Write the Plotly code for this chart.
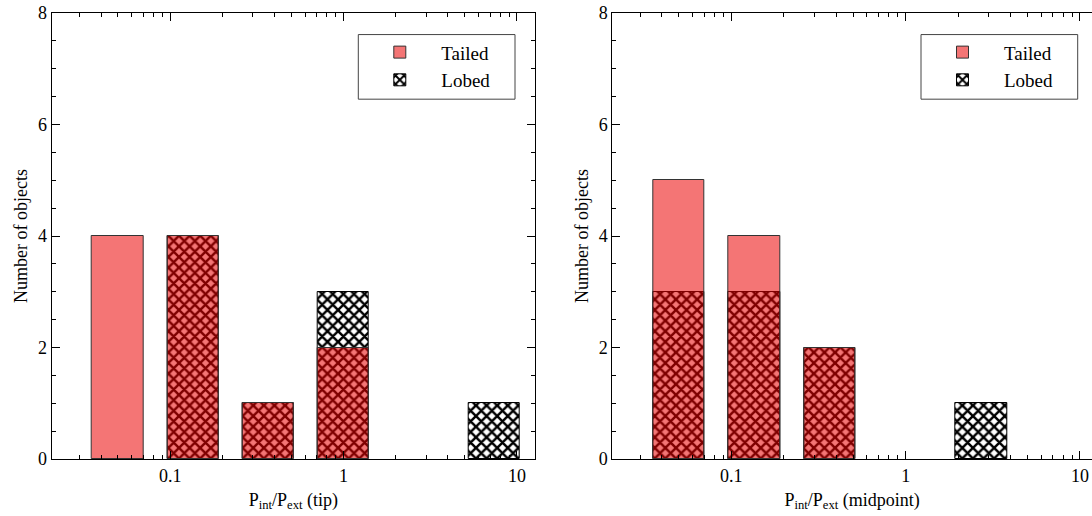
import math
import plotly.graph_objects as go

# ---------------- data ----------------
bin_center_ln = [-3, -2, -1, 0, 1, 2]        # bin centres, natural-log units of Pint/Pext
bar_width_ln = 0.68
tip_tailed = [4, 4, 1, 2, 0, 0]
tip_lobed = [0, 4, 1, 3, 0, 1]
mid_tailed = [5, 4, 2, 0, 0, 0]
mid_lobed = [3, 3, 2, 0, 1, 0]
major_tick_vals = [0.1, 1, 10]
major_tick_text = ["0.1", "1", "10"]
y_tick_vals = [0, 2, 4, 6, 8]
x_titles = ["P<sub>int</sub>/P<sub>ext</sub> (tip)", "P<sub>int</sub>/P<sub>ext</sub> (midpoint)"]
y_title = "Number of objects"

LN10 = math.log(10)
x_pos = [k / LN10 for k in bin_center_ln]
bar_w = bar_width_ln / LN10
minor_vals = [math.log10(m * 10 ** d) for d in range(-2, 2) for m in range(2, 10)]


def nz(vals):
    return [v if v else None for v in vals]


FONT = "Liberation Serif"
W, H = 1092, 516
ML, MR, MT, MB = 0, 0, 12.7, 56.7
plot_h = H - MT - MB


def py(px):  # pixel row -> paper y
    return 1 - (px - MT) / plot_h


fig = go.Figure()

panels = [
    ("x", "y", "legend", tip_tailed, tip_lobed),
    ("x2", "y2", "legend2", mid_tailed, mid_lobed),
]
for xa, ya, lg, tailed, lobed in panels:
    fig.add_trace(go.Bar(
        x=x_pos, y=nz(lobed), width=bar_w, name="Lobed", xaxis=xa, yaxis=ya,
        legend=lg, legendrank=2,
        marker=dict(color="black", line=dict(color="black", width=1),
                    pattern=dict(shape="x", fgcolor="black", bgcolor="white",
                                 size=7.5, solidity=0.55, fillmode="replace")),
    ))
    fig.add_trace(go.Bar(
        x=x_pos, y=nz(tailed), width=bar_w, name="Tailed", xaxis=xa, yaxis=ya,
        legend=lg, legendrank=1,
        marker=dict(color="rgba(235,0,0,0.54)", line=dict(color="#333333", width=1)),
    ))

tickfont = dict(family=FONT, size=18, color="black")
titlefont = dict(family=FONT, size=18, color="black")


def xaxis(domain, rng, title, mirror):
    return dict(
        domain=domain, range=rng, tickmode="array",
        tickvals=[math.log10(v) for v in major_tick_vals], ticktext=major_tick_text,
        ticks="inside", ticklen=8, tickcolor="black", tickwidth=1,
        showline=True, linecolor="black", linewidth=1, mirror=mirror,
        showgrid=False, zeroline=False,
        minor=dict(tickmode="array", tickvals=minor_vals, ticks="inside",
                   ticklen=4, tickcolor="black", tickwidth=1, showgrid=False),
        tickfont=tickfont, title=dict(text=title, font=titlefont, standoff=8),
        automargin=False,
    )


def yaxis(anchor, mirror):
    return dict(
        domain=[0, 1], range=[0, 8], anchor=anchor, tickmode="array",
        tickvals=y_tick_vals, ticks="inside", ticklen=8, tickcolor="black",
        showline=True, linecolor="black", linewidth=1, mirror=mirror,
        showgrid=False, zeroline=False,
        minor=dict(dtick=0.5, tick0=0, ticks="inside", ticklen=4,
                   tickcolor="black", showgrid=False),
        tickfont=tickfont, title=dict(text=y_title, font=titlefont, standoff=5),
        automargin=False,
    )


dom1 = [51.7 / W, 535.0 / W]
dom2 = [612.3 / W, 1.0]

legend_common = dict(
    bgcolor="rgba(0,0,0,0)", borderwidth=0,
    font=dict(family=FONT, size=19, color="black"),
    xanchor="left", yanchor="top", traceorder="normal",
    itemwidth=73, tracegroupgap=0,
)
leg_y = py(34.3)

# legend frames (box outline around each native legend)
frames = []
for x0 in (358.3, 921.0):
    frames.append(dict(
        type="rect", xref="paper", yref="paper",
        x0=x0 / W, x1=(x0 + 156.7) / W, y0=py(99.0), y1=py(34.3),
        line=dict(color="#444444", width=1), fillcolor="white", layer="above",
    ))

fig.update_layout(
    width=W, height=H,
    margin=dict(l=ML, r=MR, t=MT, b=MB),
    paper_bgcolor="white", plot_bgcolor="white",
    barmode="overlay", bargap=0,
    xaxis=xaxis(dom1, [-1.683, 1.104], x_titles[0], "ticks") | dict(anchor="y"),
    yaxis=yaxis("x", "ticks"),
    xaxis2=xaxis(dom2, [-1.683, 1.069], x_titles[1], "ticks") | dict(anchor="y2"),
    yaxis2=yaxis("x2", False),
    legend=dict(legend_common, x=358.3 / W, y=py(33.0)),
    legend2=dict(legend_common, x=921.0 / W, y=py(33.0)),
    shapes=frames,
    showlegend=True,
)

fig.write_html("out.html")
